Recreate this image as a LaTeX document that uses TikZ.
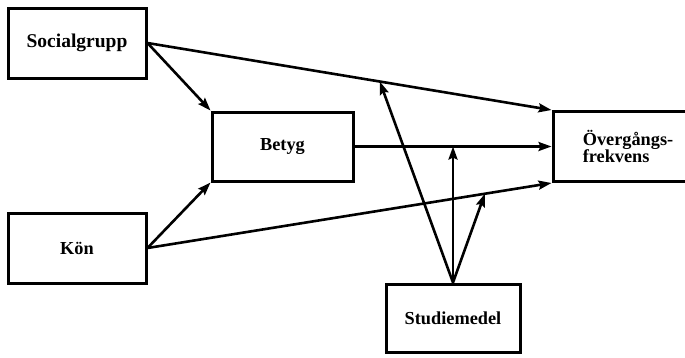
\documentclass[tikz,border=0pt]{standalone}
\usepackage{fontspec}
\setmainfont{Liberation Serif}
\usetikzlibrary{arrows.meta,positioning}

\begin{document}
\begin{tikzpicture}[->,>={Stealth[length=13pt,width=9pt,inset=2pt]},line width=2.6pt,
    box/.style={draw,rectangle,line width=3pt,minimum width=138pt,minimum height=70pt,inner sep=0pt,
      font=\bfseries\fontsize{18.3}{17.5}\selectfont}]

  \useasboundingbox (0pt,0pt) rectangle (685pt,-357pt);

  \node[box,font=\bfseries\fontsize{19.5}{18}\selectfont] (soc) at (77pt,-43pt) {Socialgrupp};
  \node[box] (kon) [below=132pt of soc] {Kön};
  \node[box,minimum width=141pt,minimum height=69pt] (betyg) [below right=31pt and 63pt of soc] {Betyg};
  \node[box,minimum width=150pt,align=left] (over) [right=197pt of betyg] {Övergångs-\\frekvens};
  \node[box,minimum width=134pt,minimum height=68pt] (stud) [below right=100pt and 30pt of betyg] {Studiemedel};

  % points where Studiemedel hits the other arrows
  \path (soc.east) -- (over.north west) coordinate[pos=0.575] (hitsoc);
  \path (betyg.east) -- (betyg.east -| over.west) coordinate[pos=0.5] (hitbet);
  \path (kon.east) -- (over.south west) coordinate[pos=0.835] (hitkon);

  \path (soc.east) edge (betyg.north west)
        (soc.east) edge (over.north west)
        (kon.east) edge (betyg.south west)
        (kon.east) edge (over.south west)
        (betyg.east) edge (betyg.east -| over.west)
        (stud.north) edge (hitsoc)
        (stud.north) edge (hitbet)
        (stud.north) edge (hitkon)
        ;

\end{tikzpicture}
\end{document}
